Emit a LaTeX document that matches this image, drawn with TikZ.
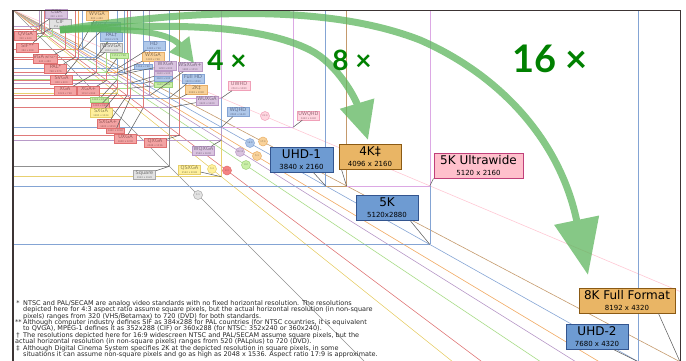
\documentclass[tikz,border=0pt]{standalone}
\usepackage{fontspec}
\setmainfont{DejaVu Sans}
\newfontfamily\latofont{Lato}
\usetikzlibrary{arrows.meta}
\definecolor{lred}{HTML}{E07A7A}
\definecolor{lyellow}{HTML}{E8D070}
\definecolor{lpurple}{HTML}{B89AC8}
\definecolor{lblue}{HTML}{84A4D4}
\definecolor{lorange}{HTML}{F0A860}
\definecolor{lgreen}{HTML}{A8DC88}
\definecolor{ltan}{HTML}{C49A6C}
\definecolor{lviolet}{HTML}{DCA8E4}
\definecolor{lpink}{HTML}{FFC8D4}
\definecolor{lgrey}{HTML}{909090}
\definecolor{framec}{HTML}{3C3434}
\definecolor{ptrc}{HTML}{606060}
\definecolor{arrowg}{HTML}{5DB65D}
\definecolor{labg}{HTML}{008000}
\definecolor{fR}{HTML}{F3A3A3}\definecolor{dR}{HTML}{E07070}\definecolor{tR}{HTML}{9A5A5A}
\definecolor{fP}{HTML}{D9C3DF}\definecolor{dP}{HTML}{B898C4}\definecolor{tP}{HTML}{7A6A80}
\definecolor{fY}{HTML}{FFF09C}\definecolor{dY}{HTML}{E6CF6A}\definecolor{tY}{HTML}{8A8050}
\definecolor{fG}{HTML}{C9EFA6}\definecolor{dG}{HTML}{9ED27A}\definecolor{tG}{HTML}{6A8A5A}
\definecolor{fO}{HTML}{F9D29A}\definecolor{dO}{HTML}{E8AE66}\definecolor{tO}{HTML}{8A7050}
\definecolor{fB}{HTML}{AFC8EA}\definecolor{dB}{HTML}{84A4D4}\definecolor{tB}{HTML}{5A6A8A}
\definecolor{fV}{HTML}{FFD6E0}\definecolor{dV}{HTML}{F0A0B8}\definecolor{tV}{HTML}{9A6A78}
\definecolor{fK}{HTML}{E2E2E2}\definecolor{dK}{HTML}{A8A8A8}\definecolor{tK}{HTML}{707070}
\definecolor{BBf}{HTML}{6E9BD2}\definecolor{BBd}{HTML}{33558F}
\definecolor{BOf}{HTML}{E9B565}\definecolor{BOd}{HTML}{8B5A14}
\definecolor{BPf}{HTML}{FFC0CC}\definecolor{BPd}{HTML}{C0407A}
\newcommand\sz[1]{\\[-1.4pt]{\fontsize{2.4}{2.6}\selectfont #1}}
\newcommand\bz[1]{\\[-2pt]{\fontsize{7}{8}\selectfont #1}}
\newcommand\vs[4]{\coordinate (#1) at ({13+0.08142*#2},{10+0.08142*#3});
  \draw[#4,rl] (#1) -- (#1 -| O) (#1) -- (#1 |- O);}
\tikzset{
  rl/.style={line width=0.6pt},
  dl/.style={line width=0.6pt},
  ptrl/.style={draw=ptrc,line width=0.55pt},
  sbox/.style={draw,line width=0.5pt,inner sep=0.4pt,minimum width=22pt,minimum height=9pt,align=center,font=\fontsize{5}{5.5}\selectfont},
  tbox/.style={draw,line width=0.4pt,inner sep=0.4pt,minimum width=18pt,minimum height=5pt,font=\fontsize{2.4}{2.4}\selectfont},
  bigbox/.style={draw,line width=1pt,inner sep=1.5pt,align=center,minimum height=25pt,font=\fontsize{12}{13}\selectfont},
  bR/.style={fill=fR,draw=dR,text=tR},
  bP/.style={fill=fP,draw=dP,text=tP},
  bY/.style={fill=fY,draw=dY,text=tY},
  bG/.style={fill=fG,draw=dG,text=tG},
  bO/.style={fill=fO,draw=dO,text=tO},
  bB/.style={fill=fB,draw=dB,text=tB},
  bV/.style={fill=fV,draw=dV,text=tV},
  bK/.style={fill=fK,draw=dK,text=tK},
  rcirc/.style={circle,draw,line width=0.5pt,inner sep=0pt,minimum size=9pt,font=\fontsize{2.3}{2.3}\selectfont},
  garrow/.style={draw=arrowg},
  mult/.style={text=labg,font=\latofont\bfseries},
  foot/.style={align=left,inner sep=0pt,text=black!85,font=\fontsize{6.5}{6.45}\selectfont}
}
\begin{document}
\begin{tikzpicture}[x=1pt,y=-1pt]
\useasboundingbox (0,0) rectangle (686,360);
\clip (0,0) rectangle (686,360);
\coordinate (O) at (13,10);
% diagonals
\begin{scope}
\clip (13,10) rectangle (680,362);
\foreach \m/\c in {1/lgrey,0.8/lyellow,0.75/lred,0.6667/lgreen,0.625/lpurple,0.6/lorange,0.5625/lblue,0.5273/ltan,0.4219/lpink}
  \draw[\c,dl] (O) -- ++(720,{720*\m});
% rectangles
\vs{eightk}{8192}{4320}{ltan}
\vs{uhdtwo}{7680}{4320}{lblue}
\vs{fivek}{5120}{2880}{lblue}
\vs{fiveuw}{5120}{2160}{lviolet}
\vs{fourk}{4096}{2160}{ltan}
\vs{uhdone}{3840}{2160}{lblue}
\vs{uwqhd}{3440}{1440}{lviolet}
\vs{qsxga}{2560}{2048}{lyellow}
\vs{wqxga}{2560}{1600}{lpurple}
\vs{wqhd}{2560}{1440}{lblue}
\vs{uwhd}{2560}{1080}{lviolet}
\vs{qxga}{2048}{1536}{lred}
\vs{twok}{2048}{1080}{ltan}
\vs{square}{1920}{1920}{lgrey}
\vs{wuxga}{1920}{1200}{lpurple}
\vs{fhd}{1920}{1080}{lblue}
\vs{wsxgap}{1680}{1050}{lpurple}
\vs{uxga}{1600}{1200}{lred}
\vs{cb1600}{1600}{900}{lblue}
\vs{cr1440}{1440}{1080}{lred}
\vs{cg1440}{1440}{960}{lgreen}
\vs{cp1440}{1440}{900}{lpurple}
\vs{sxgap}{1400}{1050}{lred}
\vs{cb1366}{1366}{768}{lblue}
\vs{sxga}{1280}{1024}{lyellow}
\vs{cr1280}{1280}{960}{lred}
\vs{cg1280}{1280}{854}{lgreen}
\vs{wxgap}{1280}{800}{lpurple}
\vs{wxgao}{1280}{768}{lorange}
\vs{hd}{1280}{720}{lblue}
\vs{xgap}{1152}{864}{lred}
\vs{cg1152}{1152}{768}{lgreen}
\vs{xga}{1024}{768}{lred}
\vs{wsvga}{1024}{600}{lgrey}
\vs{palw}{1024}{576}{lblue}
\vs{ntscw}{854}{480}{lblue}
\vs{svga}{800}{600}{lred}
\vs{wvga}{800}{480}{lorange}
\vs{pal}{768}{576}{lred}
\vs{vga}{640}{480}{lred}
\vs{hvga}{480}{320}{lgreen}
\vs{sif}{384}{288}{lred}
\vs{cif}{352}{288}{lgrey}
\vs{qvga}{320}{240}{lred}
\vs{cga}{320}{200}{lpurple}
\end{scope}
% small boxes
\node[sbox,bP] (bcga) at (56.5,14) {CGA\sz{320 x 200}};
\node[sbox,bK] (bcif) at (60,23.5) {CIF\sz{352 x 288}};
\node[sbox,bR] (bqvga) at (25.5,36) {QVGA\sz{320 x 240}};
\node[sbox,bR] (bsif) at (27.5,47.5) {SIF**\sz{384 x 288}};
\node[sbox,bR] (bvga) at (45,59) {VGA\,{\fontsize{3}{3}\selectfont(NTSC*)}\sz{640 x 480}};
\node[sbox,bR] (bpal) at (55.5,68.5) {PAL*\sz{768 x 576}};
\node[sbox,bR] (bsvga) at (61.5,79.5) {SVGA\sz{800 x 600}};
\node[sbox,bR] (bxga) at (65,91) {XGA\sz{1024 x 768}};
\node[sbox,bR] (bxgap) at (88.5,91) {XGA+\sz{1152 x 864}};
\node[sbox,bO] (bwvga) at (97,15.5) {WVGA\sz{800 x 480}};
\node[sbox,bB] (bntscw) at (105.5,26.5) {WVGA\,{\fontsize{3}{3}\selectfont(NTSC†)}\sz{854 x 480}};
\node[sbox,bB] (bpalw) at (111.5,37) {PAL†\sz{1024 x 576}};
\node[sbox,bK] (bwsvga) at (111.5,47.5) {WSVGA\sz{1024 x 600}};
\node[tbox,bG] (bg1152) at (119,55.5) {1152 x 768};
\node[sbox,bB] (bhd) at (154,45.5) {HD\sz{1280 x 720}};
\node[sbox,bO] (bwxgao) at (153,56.5) {WXGA\sz{1280 x 768}};
\node[tbox,bB] (bb1366) at (143,66.5) {1366 x 768};
\node[sbox,bP] (bwxgap) at (165.5,65.5) {WXGA\sz{1280 x 800}};
\node[sbox,bP] (bwsxgap) at (190,67) {WSXGA+\sz{1680 x 1050}};
\node[tbox,bP] (bp1440) at (163.5,73.5) {1440 x 900};
\node[tbox,bB] (bb1600) at (163.5,78.5) {1600 x 900};
\node[sbox,bB] (bfhd) at (193,78.5) {Full HD\sz{1920 x 1080}};
\node[tbox,bG] (bg1440) at (163.5,85) {1440 x 960};
\node[sbox,bO] (btwok) at (196.5,89.5) {2K‡\sz{2048 x 1080}};
\node[sbox,bP] (bwuxga) at (207,100.5) {WUXGA\sz{1920 x 1200}};
\node[tbox,bG] (bg1280) at (99,99.5) {1280 x 854};
\node[tbox,bR] (br1280) at (100,105.5) {1280 x 960};
\node[sbox,bY] (bsxga) at (101,113) {SXGA\sz{1280 x 1024}};
\node[sbox,bR] (bsxgap) at (108,123.5) {SXGA+\sz{1400 x 1050}};
\node[tbox,bR] (br1440) at (115.5,130.5) {1440 x 1080};
\node[sbox,bR] (buxga) at (125.5,139) {UXGA\sz{1600 x 1200}};
\node[sbox,bR] (bqxga) at (155,143) {QXGA\sz{2048 x 1536}};
\node[sbox,bP] (bwqxga) at (203.5,150.5) {WQXGA\sz{2560 x 1600}};
\node[sbox,bY] (bqsxga) at (189.5,169.5) {QSXGA\sz{2560 x 2048}};
\node[sbox,bK] (bsquare) at (144.5,174.5) {Square\sz{1920 x 1920}};
\node[sbox,bV] (buwhd) at (239,86) {UWHD\sz{2560 x 1080}};
\node[sbox,bB] (bwqhd) at (238,112) {WQHD\sz{2560 x 1440}};
\node[sbox,bV] (buwqhd) at (308.5,115.5) {UWQHD\sz{3440 x 1440}};
% big boxes
\node[bigbox,fill=BBf,draw=BBd,minimum width=63pt] (buhdone) at (301.5,159.5) {UHD-1\bz{3840 x 2160}};
\node[bigbox,fill=BOf,draw=BOd,minimum width=62pt] (bfourk) at (370,156.5) {4K‡\bz{4096 x 2160}};
\node[bigbox,fill=BPf,draw=BPd,minimum width=89pt] (bfiveuw) at (478.5,165.5) {5K Ultrawide\bz{5120 x 2160}};
\node[bigbox,fill=BBf,draw=BBd,minimum width=62pt] (bfivek) at (387,208) {5K\bz{5120x2880}};
\node[bigbox,fill=BOf,draw=BOd,minimum width=96pt] (beightk) at (627,300.5) {8K Full Format\bz{8192 x 4320}};
\node[bigbox,fill=BBf,draw=BBd,minimum width=62pt] (buhdtwo) at (597,336.5) {UHD-2\bz{7680 x 4320}};
% pointers
\foreach \b/\c in {bcga/cga,bcif/cif,bqvga/qvga,bsif/sif,bvga/vga,bpal/pal,bsvga/svga,bxga/xga,bxgap/xgap,bwvga/wvga,bntscw/ntscw,bpalw/palw,bwsvga/wsvga,bg1152/cg1152,bhd/hd,bwxgao/wxgao,bb1366/cb1366,bwxgap/wxgap,bwsxgap/wsxgap,bp1440/cp1440,bb1600/cb1600,bfhd/fhd,bg1440/cg1440,btwok/twok,bwuxga/wuxga,bg1280/cg1280,br1280/cr1280,bsxga/sxga,bsxgap/sxgap,br1440/cr1440,buxga/uxga,bqxga/qxga,bwqxga/wqxga,bqsxga/qsxga,bsquare/square,buwhd/uwhd,bwqhd/wqhd,buwqhd/uwqhd}
  \draw[ptrl] (\b) -- (\c);
\draw[ptrl] (buhdone) -- (uhdone);
\draw[ptrl] ([xshift=3pt]bfourk.south west) -- (fourk);
\draw[ptrl] (bfiveuw.south west) -- (fiveuw);
\draw[ptrl] ([xshift=-8pt]bfivek.south east) -- (fivek);
\draw[ptrl] ([xshift=-17pt]beightk.south east) -- (eightk);
\draw[ptrl] ([xshift=-15pt]buhdtwo.south east) -- (uhdtwo);
% ratio circles
\node[rcirc,fill=fK,draw=dK,text=tK] (r11) at (198,195) {1:1};
\node[rcirc,fill=fY,draw=dY,text=tY] (r54) at (212,169) {5:4};
\node[rcirc,fill=fR!80!red,draw=dR,text=tR] (r43) at (227,170.5) {4:3};
\node[rcirc,fill=fG,draw=dG,text=tG] (r32) at (246,165) {3:2};
\node[rcirc,fill=fP,draw=dP,text=tP] (r1610) at (240,152) {16:10};
\node[rcirc,fill=fO,draw=dO,text=tO] (r53) at (257,156) {5:3};
\node[rcirc,fill=fB,draw=dB,text=tB] (r169) at (250,143) {16:9};
\node[rcirc,fill=fO,draw=dO,text=tO] (r179) at (263,141.5) {17:9};
\node[rcirc,fill=fV,draw=dV,text=tV] (r219) at (265,116) {21:9};
% green arrows
\coordinate (gs) at (60,30);
\coordinate (g4) at (194,63);
\coordinate (g8) at (368,140);
\coordinate (g16) at (588,275);
\begin{scope}[transparency group,opacity=0.75]
\draw[garrow,line width=6pt,-{Triangle[length=24pt,width=24pt]}] (gs) .. controls (120,28) and (168,30) .. (g4);
\end{scope}
\begin{scope}[transparency group,opacity=0.75]
\draw[garrow,line width=7pt,-{Triangle[length=38pt,width=34pt]}] (gs) .. controls (180,22) and (262,26) .. (310,50) .. controls (338,64) and (356,100) .. (g8);
\end{scope}
\begin{scope}[transparency group,opacity=0.75]
\draw[garrow,line width=7pt,-{Triangle[length=56pt,width=44pt]}] (gs) .. controls (200,8) and (330,5) .. (420,40) .. controls (500,75) and (560,140) .. (g16);
\end{scope}
% multiplier labels
\node[mult,font=\latofont\bfseries\fontsize{28}{28}\selectfont] (m4) at (227,60) {4 ×};
\node[mult,font=\latofont\bfseries\fontsize{28}{28}\selectfont] (m8) at (352,60) {8 ×};
\node[mult,font=\latofont\bfseries\fontsize{38}{38}\selectfont] (m16) at (550,59) {16 ×};
% footnotes
\node[foot,anchor=north west] (notes) at (15,300) {%
\makebox[8pt][l]{\,*}NTSC and PAL/SECAM are analog video standards with no fixed horizontal resolution. The resolutions\\
\hspace*{8pt}depicted here for 4:3 aspect ratio assume square pixels, but the actual horizontal resolution (in non-square\\
\hspace*{8pt}pixels) ranges from 320 (VHS/Betamax) to 720 (DVD) for both standards.\\
\makebox[8pt][l]{**}Although computer industry defines SIF as 384x288 for PAL countries (for NTSC countries, it is equivalent\\
\hspace*{8pt}to QVGA), MPEG-1 defines it as 352x288 (CIF) or 360x288 (for NTSC: 352x240 or 360x240).\\
\makebox[8pt][l]{\,†}The resolutions depicted here for 16:9 widescreen NTSC and PAL/SECAM assume square pixels, but the\\
actual horizontal resolution (in non-square pixels) ranges from 520 (PALplus) to 720 (DVD).\\
\makebox[8pt][l]{\,‡}Although Digital Cinema System specifies 2K at the depicted resolution in square pixels, in some\\
\hspace*{8pt}situations it can assume non-square pixels and go as high as 2048 x 1536. Aspect ratio 17:9 is approximate.};
% frame
\coordinate (TR) at (680,10);
\coordinate (BR) at (680,362);
\coordinate (BL) at (13,362);
\draw[framec,line width=0.8pt] (O) -- (TR) -- (BR);
\draw[framec,line width=2pt] (O) -- (BL);
\end{tikzpicture}
\end{document}
